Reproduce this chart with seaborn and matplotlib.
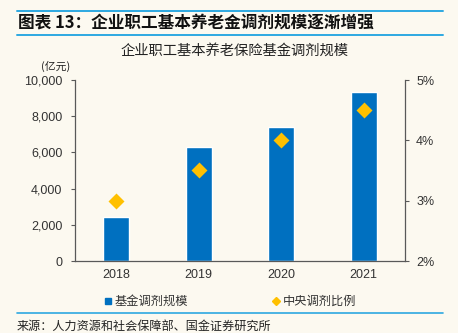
import matplotlib
matplotlib.use("Agg")
import matplotlib.pyplot as plt
import matplotlib.lines as mlines
import matplotlib.ticker as mticker
import pandas as pd
import seaborn as sns

# Data
years = ["2018", "2019", "2020", "2021"]
fund_scale = [2422, 6303, 7400, 9327]          # 基金调剂规模（亿元）
central_ratio = [3.0, 3.5, 4.0, 4.5]           # 中央调剂比例（%）
left_ticks = [0, 2000, 4000, 6000, 8000, 10000]
right_ticks = [2, 3, 4, 5]

BG = "#FCF9F0"
BAR = "#0070C0"
DIAMOND = "#FFC000"
RULE = "#2DA8E1"
TXT = "#333333"
AX = "#595959"
NUM_FONT = ["Liberation Sans", "DejaVu Sans"]

sns.set_theme(style="white")
plt.rcParams["font.family"] = ["Noto Sans CJK SC", "DejaVu Sans"]

df = pd.DataFrame({"year": years, "scale": fund_scale, "ratio": central_ratio})

fig = plt.figure(figsize=(4.58, 3.33), dpi=100, facecolor=BG)
ax = fig.add_axes([75 / 458, 1 - 261 / 333, 330 / 458, 181 / 333])
ax.set_facecolor(BG)

sns.barplot(data=df, x="year", y="scale", color=BAR, width=0.315,
            saturation=1, ax=ax, zorder=2)
ax.set_ylim(0, 10000)
ax.set_yticks(left_ticks)
ax.yaxis.set_major_formatter(mticker.FuncFormatter(lambda v, p: f"{int(v):,}"))
ax.set_xlabel("")
ax.set_ylabel("")
ax.set_xlim(-0.5, len(years) - 0.5)

ax2 = ax.twinx()
sns.pointplot(data=df, x="year", y="ratio", color=DIAMOND, marker="D",
              linestyle="none", markersize=6.5, ax=ax2, zorder=3)
ax2.set_ylim(2, 5)
ax2.set_yticks(right_ticks)
ax2.yaxis.set_major_formatter(mticker.FuncFormatter(lambda v, p: f"{int(v)}%"))
ax2.set_ylabel("")
ax2.set_xlabel("")
ax2.set_xlim(-0.5, len(years) - 0.5)

for a in (ax, ax2):
    for s in a.spines.values():
        s.set_visible(False)
ax.spines["left"].set_visible(True)
ax.spines["bottom"].set_visible(True)
ax2.spines["right"].set_visible(True)
for s in (ax.spines["left"], ax.spines["bottom"], ax2.spines["right"]):
    s.set_color(AX)
    s.set_linewidth(0.9)

# category labels centred, tick marks between categories
ax.set_xticks(range(len(years)))
ax.set_xticklabels(years)
ax.set_xticks([i + 0.5 for i in range(-1, len(years))], minor=True)
ax.tick_params(axis="x", which="major", length=0, pad=6, labelsize=9, labelcolor=TXT)
ax.tick_params(axis="x", which="minor", length=3, width=0.8, color=AX, direction="out")
ax.tick_params(axis="y", length=3, width=0.8, color=AX, direction="out",
               labelsize=9, labelcolor=TXT, pad=6, left=True)
ax2.tick_params(axis="y", length=3, width=0.8, color=AX, direction="out",
                labelsize=9, labelcolor=TXT, pad=5, right=True)
for lbl in ax.get_xticklabels() + ax.get_yticklabels() + ax2.get_yticklabels():
    lbl.set_fontfamily(NUM_FONT)
ax.grid(False)
ax2.grid(False)

# header
fig.add_artist(mlines.Line2D([17 / 458, 443 / 458], [1 - 10.7 / 333] * 2,
                             color=RULE, lw=1.4))
fig.text(18 / 458, 1 - 22.5 / 333, "图表 13：企业职工基本养老金调剂规模逐渐增强",
         fontsize=12, fontweight="bold", color="#111111", va="center", ha="left")
fig.add_artist(mlines.Line2D([17 / 458, 443 / 458], [1 - 35 / 333] * 2,
                             color=RULE, lw=1.4))
fig.text(235 / 458, 1 - 51 / 333, "企业职工基本养老保险基金调剂规模",
         fontsize=10.3, color="#222222", va="center", ha="center")
fig.text(56 / 458, 1 - 66 / 333, "(亿元)", fontsize=7.8, color="#222222",
         va="center", ha="center")

# legend
leg_y = 1 - 301 / 333
fig.add_artist(mlines.Line2D([108 / 458], [leg_y], marker="s", markersize=5,
                             color=BAR, linestyle="none"))
fig.text(115 / 458, leg_y, "基金调剂规模", fontsize=8.8, color=TXT, va="center", ha="left")
fig.add_artist(mlines.Line2D([276 / 458], [leg_y], marker="D", markersize=4,
                             color=DIAMOND, linestyle="none"))
fig.text(283 / 458, leg_y, "中央调剂比例", fontsize=8.8, color=TXT, va="center", ha="left")

# footer
fig.add_artist(mlines.Line2D([17 / 458, 443 / 458], [1 - 312.7 / 333] * 2,
                             color=RULE, lw=1.2))
fig.text(17 / 458, 1 - 326 / 333, "来源：人力资源和社会保障部、国金证券研究所",
         fontsize=8.7, color="#222222", va="center", ha="left")

fig.savefig("out.png", dpi=100, facecolor=BG)
